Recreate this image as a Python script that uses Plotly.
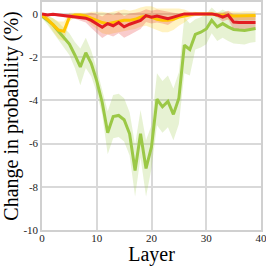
import plotly.graph_objects as go

layers = list(range(40))

green_mean = [-0.1, -0.3, -0.5, -0.8, -1.1, -1.4, -1.9, -2.45, -1.8, -2.3,
              -3.1, -4.1, -5.5, -4.75, -4.7, -4.9, -5.55, -7.25, -5.55, -7.15,
              -6.15, -3.95, -4.3, -4.05, -4.65, -3.9, -1.45, -1.65, -0.95, -0.85,
              -0.7, -0.3, -0.6, -0.45, -0.6, -0.72, -0.75, -0.77, -0.72, -0.68]
green_err = [0.1, 0.2, 0.3, 0.4, 0.45, 0.5, 0.6, 0.85, 0.7, 0.6,
             0.55, 0.55, 1.0, 1.0, 1.0, 1.0, 1.0, 1.2, 1.1, 1.3,
             1.0, 1.2, 1.2, 1.2, 1.2, 1.2, 1.3, 1.2, 0.7, 0.7,
             0.7, 0.6, 0.65, 0.65, 0.65, 0.65, 0.65, 0.65, 0.62, 0.62]

yellow_mean = [-0.05, -0.25, -0.5, -0.75, -0.8, -0.15, -0.05, -0.05, -0.1, -0.2,
               -0.3, -0.4, -0.45, -0.4, -0.35, -0.3, -0.3, -0.25, -0.15, -0.1,
               -0.15, -0.25, -0.3, -0.3, -0.25, -0.15, -0.1, -0.05, 0.0, 0.0,
               0.0, 0.0, -0.05, -0.08, -0.08, -0.1, -0.1, -0.08, -0.08, -0.08]
yellow_err = [0.05, 0.15, 0.3, 0.4, 0.45, 0.2, 0.1, 0.1, 0.15, 0.3,
              0.4, 0.5, 0.5, 0.5, 0.5, 0.5, 0.45, 0.45, 0.45, 0.45,
              0.5, 0.5, 0.55, 0.55, 0.5, 0.4, 0.3, 0.15, 0.1, 0.05,
              0.05, 0.05, 0.1, 0.15, 0.2, 0.2, 0.2, 0.2, 0.2, 0.2]

red_mean = [0.0, -0.05, -0.02, -0.05, -0.08, -0.1, -0.12, -0.15, -0.2, -0.3,
            -0.45, -0.62, -0.45, -0.55, -0.4, -0.6, -0.48, -0.4, -0.3, -0.08,
            -0.15, -0.1, -0.15, -0.22, -0.15, -0.08, 0.0, 0.0, 0.0, 0.0,
            0.0, 0.0, -0.05, -0.15, -0.05, -0.38, -0.4, -0.4, -0.4, -0.4]
red_err = [0.05, 0.05, 0.05, 0.05, 0.08, 0.1, 0.1, 0.15, 0.2, 0.35,
           0.45, 0.5, 0.5, 0.5, 0.5, 0.5, 0.5, 0.45, 0.4, 0.3,
           0.3, 0.3, 0.3, 0.3, 0.2, 0.1, 0.05, 0.05, 0.05, 0.05,
           0.05, 0.05, 0.1, 0.2, 0.2, 0.35, 0.35, 0.35, 0.35, 0.35]

x_ticks = [0, 10, 20, 30, 40]
y_ticks = [0, -2, -4, -6, -8, -10]
y_ticktext = ["0", "-2", "-4", "-6", "-8", "-10"]

series = [
    (green_mean, green_err, "rgb(155,200,70)", "rgba(155,200,70,0.24)"),
    (yellow_mean, yellow_err, "rgb(255,196,0)", "rgba(255,200,0,0.24)"),
    (red_mean, red_err, "rgb(226,28,34)", "rgba(230,40,40,0.24)"),
]

fig = go.Figure()
for mean, err, col, fillcol in series:
    upper = [m + e for m, e in zip(mean, err)]
    lower = [m - e for m, e in zip(mean, err)]
    fig.add_trace(go.Scatter(
        x=layers + layers[::-1], y=upper + lower[::-1],
        fill="toself", fillcolor=fillcol, line=dict(width=0),
        mode="lines", hoverinfo="skip", showlegend=False))
for mean, err, col, fillcol in series:
    fig.add_trace(go.Scatter(x=layers, y=mean, mode="lines",
                             line=dict(color=col, width=3), showlegend=False))

serif = "Liberation Serif, Times New Roman, serif"
axis_common = dict(showgrid=True, gridcolor="#d9d9d9", gridwidth=1.5,
                   showline=True, linecolor="#d0d0d0", linewidth=1.5, mirror=True,
                   zeroline=False, ticks="", automargin=False,
                   ticklabeloverflow="allow",
                   tickfont=dict(family=serif, size=11, color="#222"))

fig.update_xaxes(range=[0, 40], tickvals=x_ticks, ticklabelstandoff=-3,
                 title=dict(text="Layer", font=dict(family=serif, size=20, color="black"), standoff=4),
                 **axis_common)
fig.update_yaxes(range=[-10, 0.55], tickvals=y_ticks, ticktext=y_ticktext,
                 title=dict(text="Change in probability (%)", font=dict(family=serif, size=20, color="black"), standoff=4),
                 **axis_common)

fig.update_layout(width=266, height=266, margin=dict(l=42, r=5, t=2, b=36),
                  plot_bgcolor="white", paper_bgcolor="white")

fig.write_html("out.html", config={"displayModeBar": False},
               post_script="document.body.style.margin='0';document.body.style.overflow='hidden';")
